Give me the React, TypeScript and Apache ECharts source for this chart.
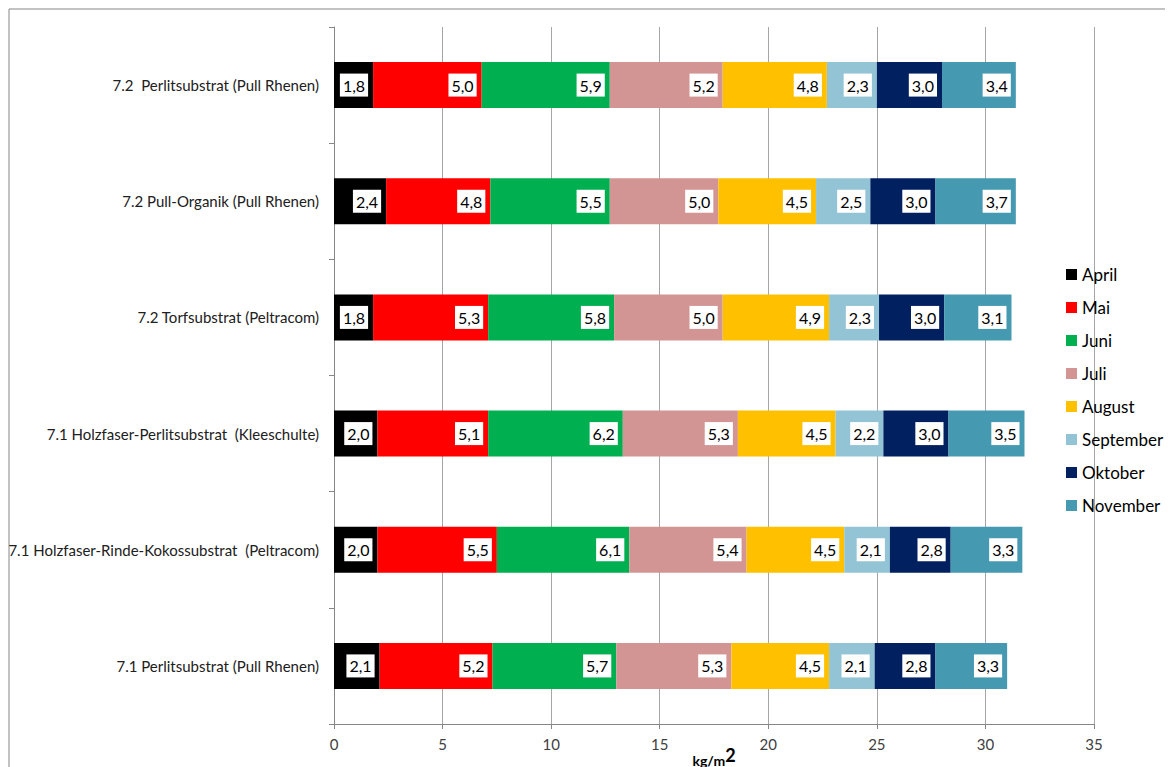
import React, { useEffect, useRef } from "react";
import * as echarts from "echarts";

const categories = [
  "7.2  Perlitsubstrat (Pull Rhenen)",
  "7.2 Pull-Organik (Pull Rhenen)",
  "7.2 Torfsubstrat (Peltracom)",
  "7.1 Holzfaser-Perlitsubstrat  (Kleeschulte)",
  "7.1 Holzfaser-Rinde-Kokossubstrat  (Peltracom)",
  "7.1 Perlitsubstrat (Pull Rhenen)",
];

const months = ["April", "Mai", "Juni", "Juli", "August", "September", "Oktober", "November"];
const colors = ["#000000", "#FF0000", "#00B050", "#D39494", "#FFC000", "#93C4D6", "#002060", "#4599B1"];

const april = [1.8, 2.4, 1.8, 2.0, 2.0, 2.1];
const mai = [5.0, 4.8, 5.3, 5.1, 5.5, 5.2];
const juni = [5.9, 5.5, 5.8, 6.2, 6.1, 5.7];
const juli = [5.2, 5.0, 5.0, 5.3, 5.4, 5.3];
const august = [4.8, 4.5, 4.9, 4.5, 4.5, 4.5];
const september = [2.3, 2.5, 2.3, 2.2, 2.1, 2.1];
const oktober = [3.0, 3.0, 3.0, 3.0, 2.8, 2.8];
const november = [3.4, 3.7, 3.1, 3.5, 3.3, 3.3];

const seriesValues = [april, mai, juni, juli, august, september, oktober, november];

const FONT = "Lato, 'Open Sans', sans-serif";

export default function App() {
  const ref = useRef<HTMLDivElement>(null);
  useEffect(() => {
    if (!ref.current) return;
    const chart = echarts.init(ref.current, undefined, { renderer: "svg" });
    chart.setOption({
      animation: false,
      textStyle: { fontFamily: FONT },
      graphic: [
        {
          type: "rect",
          shape: { x: 1, y: 1, width: 1300, height: 900 },
          style: { fill: "none", stroke: "#868686", lineWidth: 1 },
          silent: true,
        },
      ],
      grid: {
        left: 326,
        right: 79,
        top: 19,
        bottom: 43,
        containLabel: false,
        outerBoundsMode: "none",
      },
      legend: {
        orient: "vertical",
        left: 1058,
        top: 258,
        padding: 0,
        itemWidth: 11,
        itemHeight: 11,
        itemGap: 16,
        icon: "rect",
        data: months,
        textStyle: { fontSize: 17, color: "#000", fontFamily: FONT },
      },
      xAxis: {
        type: "value",
        min: 0,
        max: 35,
        interval: 5,
        name: "{a|kg/m}{b|2}",
        nameLocation: "middle",
        nameGap: 22,
        nameMoveOverlap: false,
        nameTextStyle: {
          rich: {
            a: { fontSize: 14, fontWeight: "bold", color: "#000", fontFamily: FONT, padding: [5, 0, 0, 0] },
            b: { fontSize: 18, fontWeight: "bold", color: "#000", fontFamily: FONT, padding: [0, 0, 5, 0] },
          },
        },
        axisLine: { show: true, lineStyle: { color: "#868686" } },
        axisTick: { show: true, lineStyle: { color: "#868686" }, length: 5 },
        axisLabel: { fontSize: 15, color: "#404040", margin: 12, fontFamily: FONT },
        splitLine: { show: true, lineStyle: { color: "#a6a6a6", width: 1 } },
      },
      yAxis: {
        type: "category",
        data: categories,
        inverse: true,
        axisLine: { show: true, lineStyle: { color: "#868686" } },
        axisTick: { show: true, length: 5, lineStyle: { color: "#868686" } },
        axisLabel: { fontSize: 15, color: "#202020", margin: 15, fontFamily: FONT },
        splitLine: { show: false },
      },
      series: months.map((m, i) => ({
        name: m,
        type: "bar",
        stack: "total",
        barWidth: 46,
        data: seriesValues[i],
        itemStyle: { color: colors[i] },
        label: {
          show: true,
          position: "insideRight",
          distance: 5,
          formatter: (p: any) => Number(p.value).toFixed(1).replace(".", ","),
          backgroundColor: "#ffffff",
          color: "#000",
          fontSize: 16,
          fontFamily: FONT,
          padding: [4, 3, 3, 3],
        },
      })),
    });
    return () => chart.dispose();
  }, []);
  return <div ref={ref} style={{ width: 1165, height: 759 }} />;
}
